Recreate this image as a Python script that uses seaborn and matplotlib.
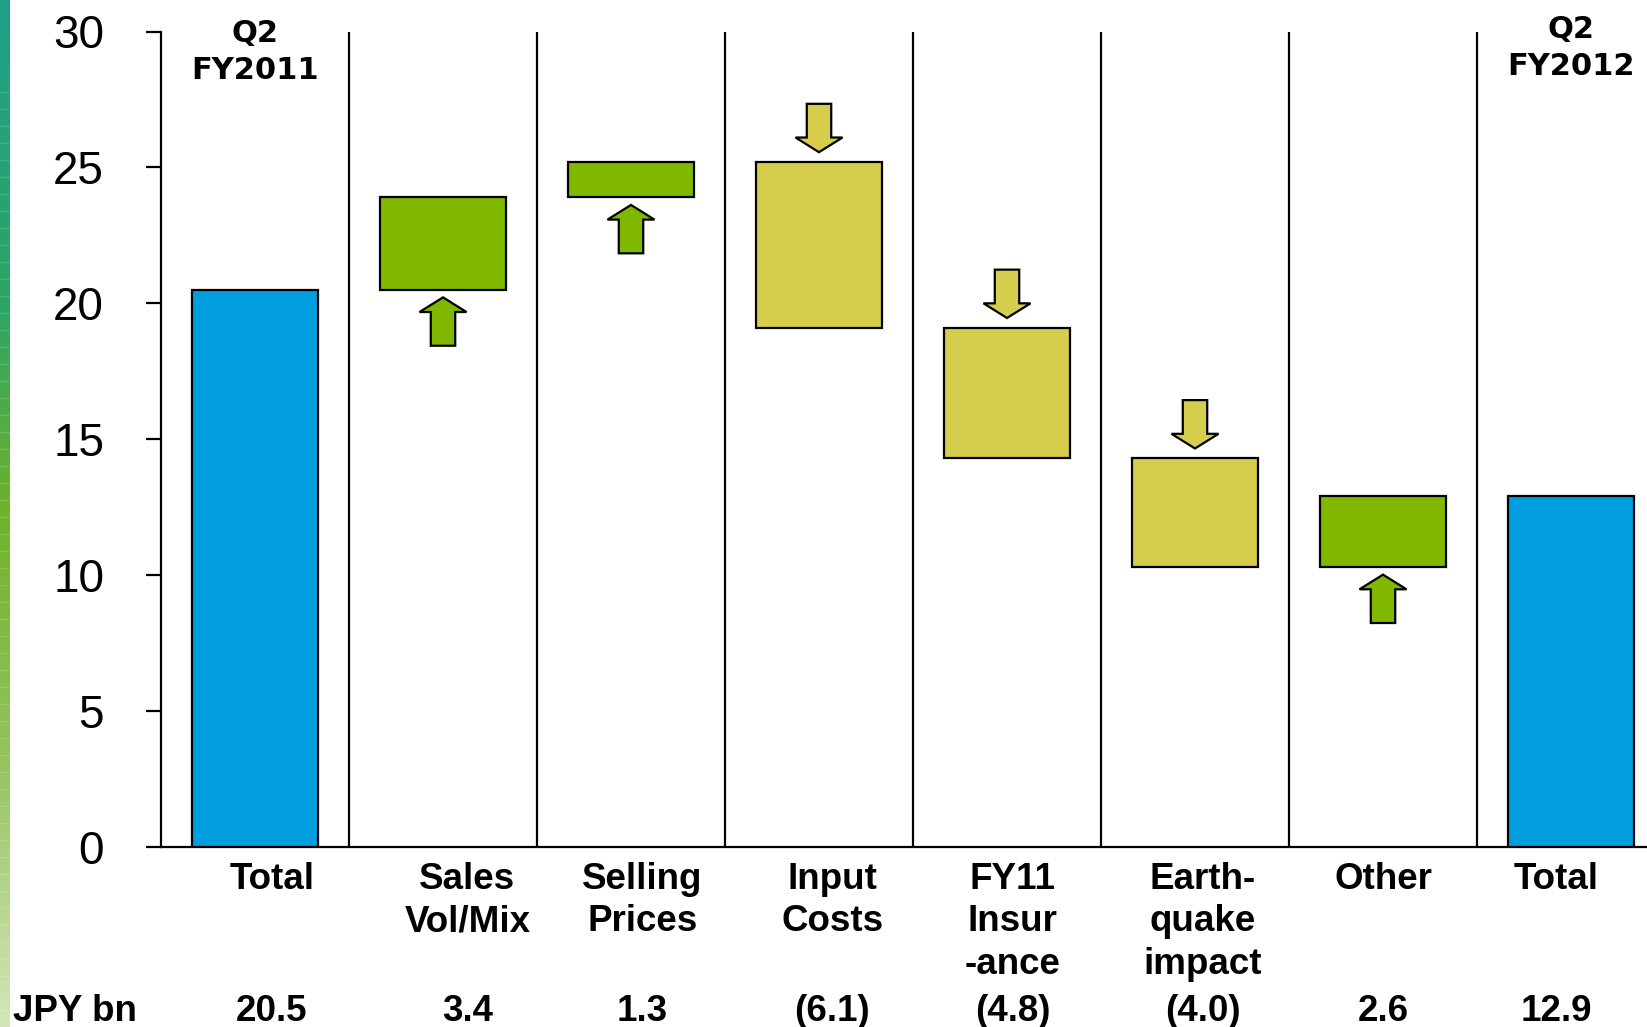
import numpy as np
import pandas as pd
import matplotlib
matplotlib.use("Agg")
import matplotlib.pyplot as plt
import matplotlib.transforms as mtransforms
from matplotlib.patches import Polygon
from matplotlib import font_manager
import seaborn as sns

# --- data -------------------------------------------------------------
steps = ["Total", "Sales\nVol/Mix", "Selling\nPrices", "Input\nCosts",
         "FY11\nInsur\n-ance", "Earth-\nquake\nimpact", "Other", "Total"]
values = [20.5, 3.4, 1.3, -6.1, -4.8, -4.0, 2.6, 12.9]
kinds = ["total", "delta", "delta", "delta", "delta", "delta", "delta", "total"]
period_labels = {0: "Q2\nFY2011", 7: "Q2\nFY2012"}
unit_label = "JPY bn"
yticks = [0, 5, 10, 15, 20, 25, 30]

# horizontal nudges of the text blocks under each column (category units)
label_dx = [0.09, 0.13, 0.06, 0.07, 0.03, 0.04, 0.00, -0.08]

# --- waterfall geometry -----------------------------------------------
bottoms, heights, colors = [], [], []
level = 0.0
for v, k in zip(values, kinds):
    if k == "total":
        bottoms.append(0.0)
        heights.append(v)
        colors.append("#009EDF")
        level = v
    else:
        lo = level if v >= 0 else level + v
        bottoms.append(lo)
        heights.append(abs(v))
        colors.append("#80B800" if v >= 0 else "#D6CD4C")
        level += v

df = pd.DataFrame({"step": list(range(len(steps))), "span": heights})

# --- fonts ------------------------------------------------------------
available = {f.name for f in font_manager.fontManager.ttflist}
narrow = "Liberation Sans Narrow" if "Liberation Sans Narrow" in available else "Liberation Sans"
label_size = 29 if narrow == "Liberation Sans Narrow" else 26.5

sns.set_theme(style="white")
plt.rcParams["font.family"] = ["Liberation Sans", "DejaVu Sans"]

W, H, DPI = 1647, 1027, 100
fig = plt.figure(figsize=(W / DPI, H / DPI), dpi=DPI)
fig.patch.set_facecolor("white")

# decorative gradient strip along the left edge
strip = fig.add_axes([0, 0, 10 / W, 1])
stops = np.array([
    [0.00, 30, 160, 137],
    [0.30, 45, 165, 100],
    [0.50, 112, 178, 42],
    [0.75, 150, 196, 98],
    [1.00, 212, 230, 184],
])
yy = np.linspace(0, 1, 400)
grad = np.stack([np.interp(yy, stops[:, 0], stops[:, i]) for i in (1, 2, 3)], axis=1) / 255
strip.imshow(grad[:, None, :], aspect="auto", extent=[0, 1, 1, 0])
for yl in np.arange(0.09, 1.0, 17 / H):
    strip.axhline(yl, color="white", alpha=0.15, lw=1)
strip.set_xlim(0, 1)
strip.set_ylim(1, 0)
strip.axis("off")

# main axes
left = 161 / W
bottom = 1 - 847 / H
top = 1 - 31.5 / H
ax = fig.add_axes([left, bottom, 1 - left, top - bottom])

sns.barplot(data=df, x="step", y="span", bottom=bottoms, width=0.67,
            errorbar=None, color="#009EDF", edgecolor="black", linewidth=1.6,
            ax=ax, zorder=3)
for patch, c in zip(ax.patches, colors):
    patch.set_facecolor(c)

# column separators
for xs in np.arange(0.5, len(steps) - 1, 1.0):
    ax.plot([xs, xs], [0, 30], color="black", lw=1.6, zorder=2)

# direction arrows next to each change bar
head_w, shaft_w, head_l, length = 0.25, 0.13, 0.54, 1.78
for i, (v, k) in enumerate(zip(values, kinds)):
    if k != "delta":
        continue
    face = colors[i]
    if v >= 0:
        tip = bottoms[i] - 0.28
        tail = tip - length
        neck = tip - head_l
    else:
        tip = bottoms[i] + heights[i] + 0.36
        tail = tip + length
        neck = tip + head_l
    pts = [(i - shaft_w / 2, tail), (i - shaft_w / 2, neck), (i - head_w / 2, neck),
           (i, tip), (i + head_w / 2, neck), (i + shaft_w / 2, neck),
           (i + shaft_w / 2, tail)]
    ax.add_patch(Polygon(pts, closed=True, facecolor=face, edgecolor="black",
                         lw=1.6, zorder=4, joinstyle="miter"))

ax.set_xlim(-0.5, -0.5 + (W - 161) / 188)
ax.set_ylim(0, 30)
ax.set_yticks(yticks)
ax.set_yticklabels([str(t) for t in yticks], fontsize=33, family="Liberation Sans")
ax.tick_params(axis="y", direction="out", length=11, width=1.6, pad=30,
               colors="black", left=True)
ax.tick_params(axis="x", bottom=False, labelbottom=False)
ax.set_xlabel("")
ax.set_ylabel("")
for side in ("top", "right"):
    ax.spines[side].set_visible(False)
for side in ("left", "bottom"):
    ax.spines[side].set_color("black")
    ax.spines[side].set_linewidth(1.6)
ax.spines["bottom"].set_bounds(-0.5, 10)
ax.set_facecolor("white")

# text under the columns
trans = mtransforms.blended_transform_factory(ax.transData, fig.transFigure)
for i, (name, v) in enumerate(zip(steps, values)):
    x = i + label_dx[i]
    fig.text(x, 1 - 862 / H, name, transform=trans, ha="center", va="top",
             multialignment="center", fontsize=label_size, fontweight="bold",
             family=narrow, linespacing=1.27, color="black")
    txt = f"{v:.1f}" if v >= 0 else f"({abs(v):.1f})"
    fig.text(x, 1 - 1021 / H, txt, transform=trans, ha="center", va="baseline",
             fontsize=label_size, fontweight="bold", family=narrow, color="black")

fig.text(13 / W, 1 - 1021 / H, unit_label, ha="left", va="baseline",
         fontsize=label_size, fontweight="bold", family=narrow, color="black")

# period captions above the total columns
for i, lab in period_labels.items():
    y_base = 1 - (79 if i == 0 else 75) / H
    fig.text(i, y_base, lab, transform=trans, ha="center", va="baseline",
             multialignment="center", fontsize=22, fontweight="bold",
             family="DejaVu Sans", linespacing=1.35, color="black")

fig.savefig("out.png", dpi=DPI, facecolor="white")
